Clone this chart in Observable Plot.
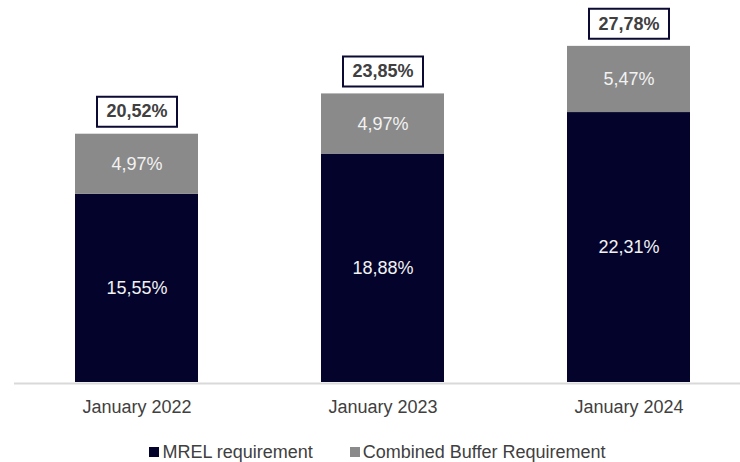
<!DOCTYPE html>
<html>
<head>
<meta charset="utf-8">
<script src="https://cdn.jsdelivr.net/npm/d3@7"></script>
<script src="https://cdn.jsdelivr.net/npm/@observablehq/plot@0.6"></script>
<style>
  body { margin: 0; background: #fff; font-family: "Liberation Sans", Arial, sans-serif; }
  #legend { display: flex; justify-content: center; align-items: center; height: 32px; padding-left: 15px;
            font-size: 18px; color: #404040; width: 740px; box-sizing: border-box; }
  .item { display: flex; align-items: center; }
  .sw { width: 10px; height: 10px; margin-right: 3px; }
</style>
</head>
<body>
<div id="chart"></div>
<div id="legend"></div>
<script>
const years = ["January 2022", "January 2023", "January 2024"];
const mrel = [15.55, 18.88, 22.31];
const cbr = [4.97, 4.97, 5.47];
const totals = [20.52, 23.85, 27.78];
const seriesNames = ["MREL requirement", "Combined Buffer Requirement"];
const colors = ["#04032c", "#8a8a8a"];

const fmt = v => v.toFixed(2).replace(".", ",") + "%";

const data = years.flatMap((yr, i) => [
  {year: yr, series: seriesNames[0], value: mrel[i], y1: 0, y2: mrel[i]},
  {year: yr, series: seriesNames[1], value: cbr[i], y1: mrel[i], y2: mrel[i] + cbr[i]}
]);
const totalData = years.map((yr, i) => ({year: yr, total: totals[i], top: mrel[i] + cbr[i]}));

const boxSymbol = {
  draw(context) { context.rect(-40, -15, 80, 30); }
};

const chart = Plot.plot({
  width: 740,
  height: 436,
  marginLeft: 26,
  marginRight: 0,
  marginTop: 19,
  marginBottom: 54,
  style: {fontFamily: "'Liberation Sans', Arial, sans-serif", fontSize: "18px", color: "#404040", background: "#fff"},
  x: {domain: years, paddingInner: 0.499, paddingOuter: 0.2, label: null, tickSize: 0, tickPadding: 18},
  y: {domain: [0, 30], axis: null},
  color: {domain: seriesNames, range: colors},
  marks: [
    Plot.barY(data, {x: "year", y1: "y1", y2: "y2", fill: "series"}),
    Plot.ruleY([0], {stroke: "#d9d9d9", strokeWidth: 2, dy: 1, insetLeft: -12}),
    Plot.text(data, {x: "year", y: d => (d.y1 + d.y2) / 2, text: d => fmt(d.value), fill: "#f2f2f2", fontSize: 18}),
    Plot.dot(totalData, {x: "year", y: "top", symbol: boxSymbol, r: 10, fill: "white", stroke: "#0b0a33", strokeWidth: 2, dy: -22.5}),
    Plot.text(totalData, {x: "year", y: "top", text: d => fmt(d.total), fill: "#404040", fontWeight: "bold", fontSize: 18, dy: -22.5})
  ]
});
document.getElementById("chart").appendChild(chart);

const legend = document.getElementById("legend");
seriesNames.forEach((name, i) => {
  const item = document.createElement("div");
  item.className = "item";
  if (i > 0) item.style.marginLeft = "37px";
  const sw = document.createElement("div");
  sw.className = "sw";
  sw.style.background = colors[i];
  const label = document.createElement("span");
  label.textContent = name;
  item.appendChild(sw);
  item.appendChild(label);
  legend.appendChild(item);
});
</script>
</body>
</html>
